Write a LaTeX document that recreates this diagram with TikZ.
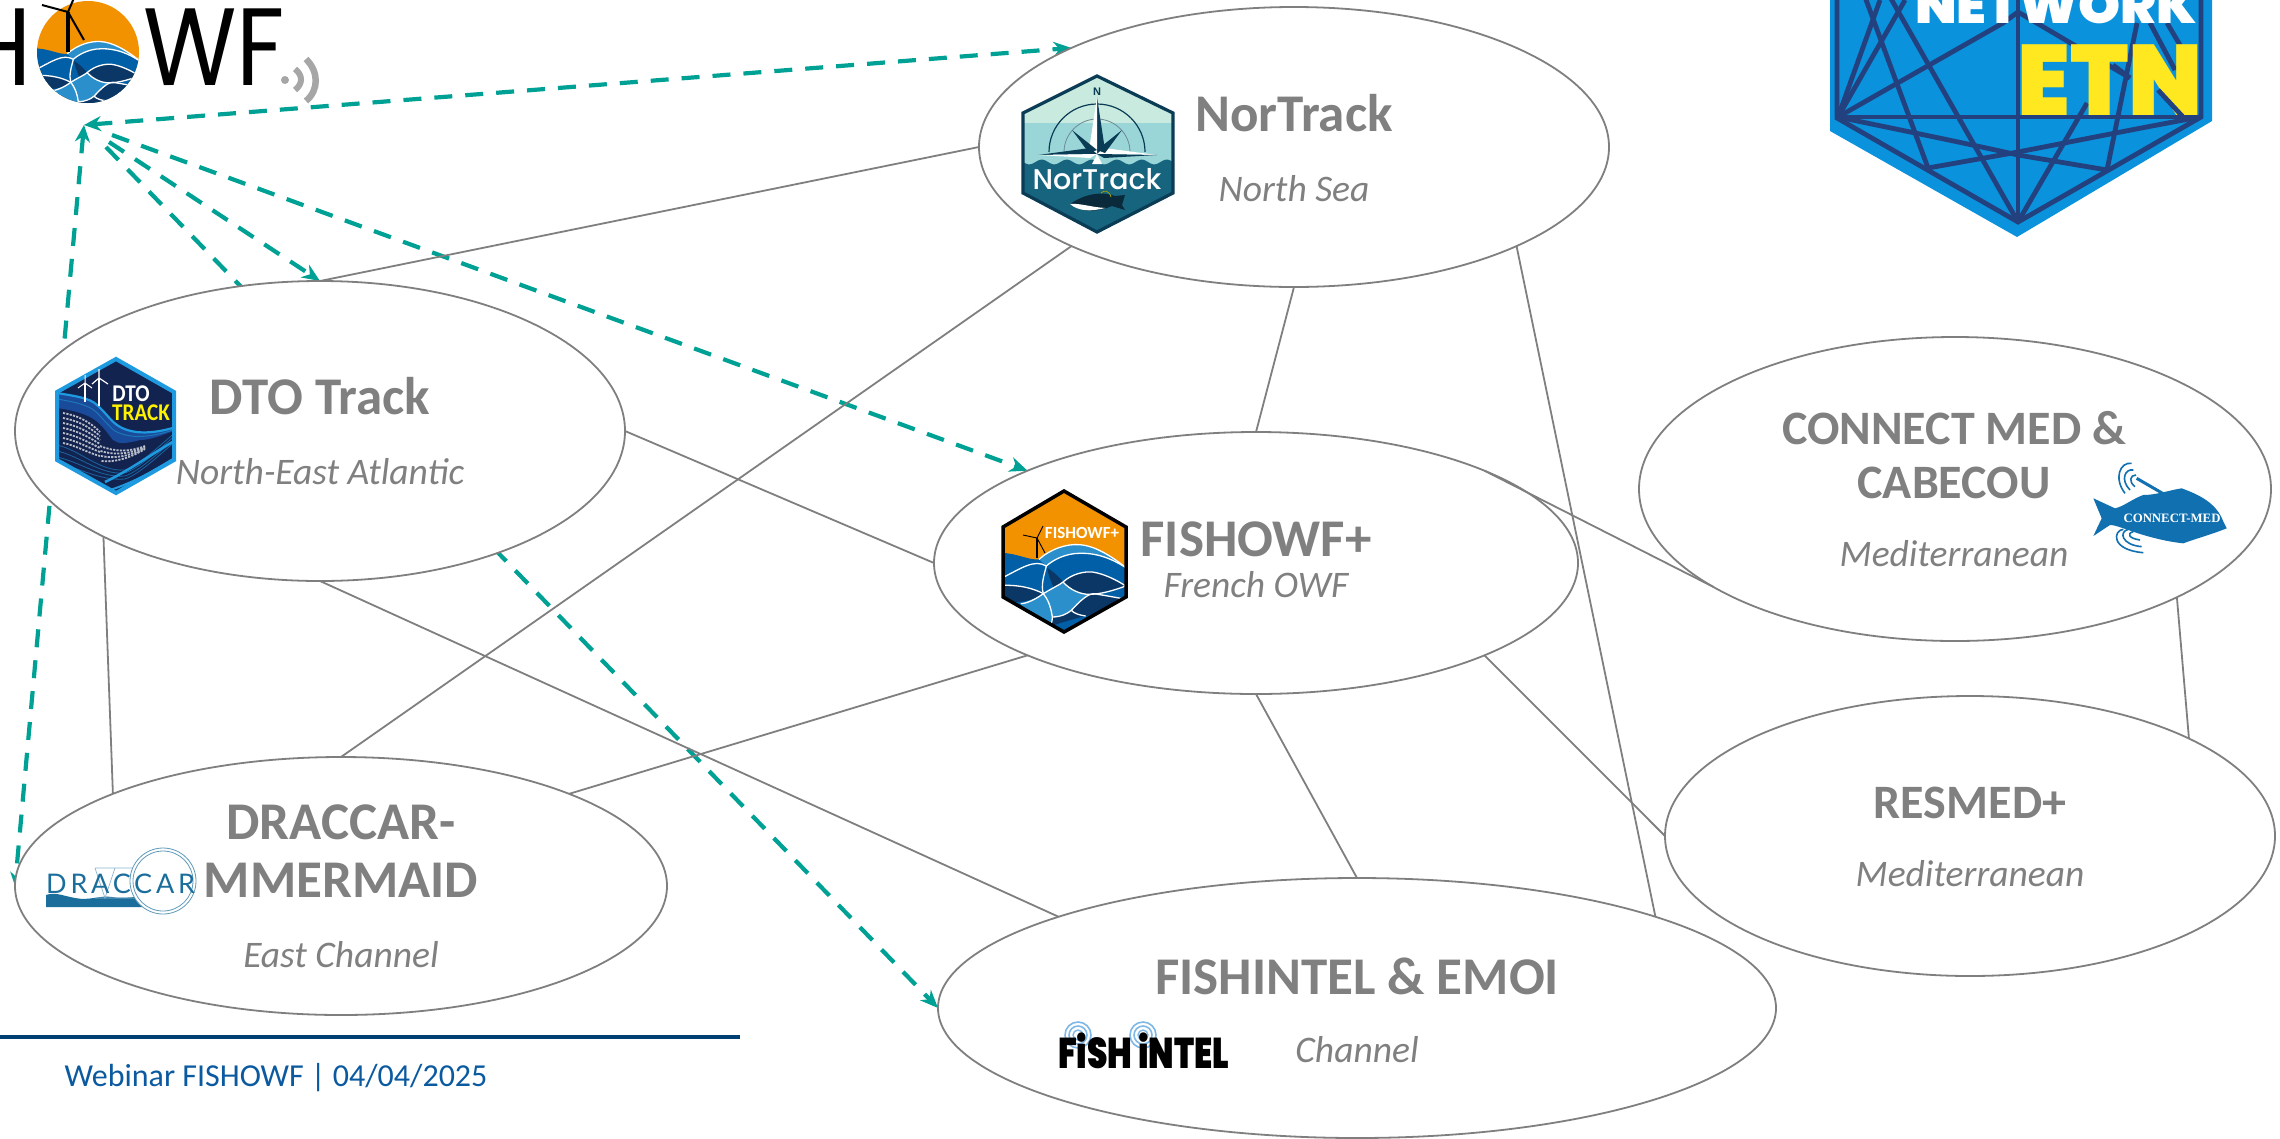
\documentclass[tikz,border=0pt]{standalone}
\usepackage{fontspec}
\usetikzlibrary{shapes.geometric,arrows.meta}
\setmainfont{Carlito}
\newfontfamily\popfont{Poppins}
\newfontfamily\popmed{Poppins Medium}
\newfontfamily\popblack{Poppins Black}
\newfontfamily\drafont[LetterSpace=14]{Lato}
\newfontfamily\serfont{Liberation Serif}
\newfontfamily\helvfont{Liberation Sans}
\pgfdeclarelayer{under}\pgfsetlayers{under,main}
\definecolor{teal1}{HTML}{00A195}
\definecolor{gray1}{HTML}{808080}
\definecolor{gray2}{HTML}{7F7F7F}
\definecolor{wblue}{HTML}{005FA6}
\definecolor{lblue}{HTML}{2A8FCB}
\definecolor{navyf}{HTML}{0A3766}
\definecolor{orangef}{HTML}{F39200}
\definecolor{etnblue}{HTML}{0A92DC}
\definecolor{etnline}{HTML}{23417F}
\definecolor{etnyel}{HTML}{FFE81F}
\definecolor{ntop}{HTML}{C8EADF}
\definecolor{nmid}{HTML}{9AD6D8}
\definecolor{nbot}{HTML}{17647F}
\definecolor{nbord}{HTML}{0B3C55}
\definecolor{nfish}{HTML}{0A2A3C}
\definecolor{dtob}{HTML}{1E9BE0}
\definecolor{dton}{HTML}{13234F}
\definecolor{dtom}{HTML}{1A4A9A}
\definecolor{cmblue}{HTML}{1070B0}
\definecolor{drab}{HTML}{1B6E9C}
\definecolor{ringb}{HTML}{7FB8E6}
\definecolor{webc}{HTML}{0B5AA0}
\definecolor{rulec}{HTML}{003F72}
\tikzset{
  oval/.style={shape=ellipse,draw=gray2,line width=1.8pt,fill=white,inner sep=0pt,outer sep=0pt},
  link/.style={draw=gray2,line width=1.8pt},
  tealdash/.style={draw=teal1,line width=4.2pt,dash pattern=on 18pt off 13pt},
  bothtips/.style={{Stealth[length=17pt,width=15pt]}-{Stealth[length=14pt,width=12pt]}},
  bothbig/.style={{Stealth[length=17pt,width=15pt]}-{Stealth[length=18pt,width=15pt]}},
  endtip/.style={-{Stealth[length=18pt,width=15pt]}},
  title/.style={font=\fontsize{53}{56}\selectfont\bfseries,text=gray1,inner sep=0pt},
  titlesm/.style={font=\fontsize{48}{52}\selectfont\bfseries,text=gray1,inner sep=0pt},
  region/.style={font=\fontsize{37.5}{42}\selectfont\itshape,text=gray1,inner sep=0pt},
  wline/.style={draw=white,line width=1.3pt},
  etnl/.style={draw=etnline,line width=4.8pt},
}
\newcommand{\fishart}[3]{%
 \begin{scope}[shift={(#1,#2)},scale=#3]
  \fill[wblue] (-200,-28) .. controls (-140,-28) and (-110,-5) .. (-75,-8)
     .. controls (-40,-40) and (10,-55) .. (45,-52)
     .. controls (90,-50) and (140,-20) .. (200,25) -- (200,230) -- (-200,230) -- cycle;
  \fill[lblue] (-75,-8) .. controls (-40,-40) and (10,-55) .. (45,-52)
     .. controls (90,-50) and (140,-20) .. (190,20)
     .. controls (130,-20) and (80,-30) .. (30,-25)
     .. controls (-10,-20) and (-40,0) .. (-53,12) -- cycle;
  \fill[lblue] (-62,95) .. controls (-30,75) and (-15,70) .. (-3,60)
     .. controls (20,85) and (50,97) .. (75,97)
     .. controls (60,110) and (40,130) .. (22,145)
     .. controls (0,155) and (-20,165) .. (-35,165)
     .. controls (-40,130) and (-50,110) .. (-62,95) -- cycle;
  \fill[lblue] (-130,125) .. controls (-100,115) and (-80,105) .. (-62,95)
     .. controls (-50,110) and (-40,130) .. (-35,165)
     .. controls (-35,180) and (-40,190) .. (-45,200)
     .. controls (-90,175) and (-115,150) .. (-130,125) -- cycle;
  \fill[navyf] (-3,60) .. controls (25,35) and (60,28) .. (85,30)
     .. controls (120,35) and (160,55) .. (185,72)
     .. controls (150,85) and (110,97) .. (75,97)
     .. controls (50,97) and (20,85) .. (-3,60) -- cycle;
  \fill[navyf] (-190,70) .. controls (-130,68) and (-90,80) .. (-62,95)
     .. controls (-90,115) and (-140,130) .. (-190,110) -- cycle;
  \fill[navyf] (22,145) .. controls (45,120) and (70,95) .. (90,95)
     .. controls (120,100) and (150,105) .. (175,110)
     .. controls (140,140) and (100,160) .. (65,162)
     .. controls (50,160) and (30,155) .. (22,145) -- cycle;
  \fill[navyf] (-50,18) .. controls (-30,30) and (-10,50) .. (-3,60)
     .. controls (-15,70) and (-25,75) .. (-32,75)
     .. controls (-40,55) and (-50,30) .. (-50,18) -- cycle;
  \fill[navyf] (-35,165) .. controls (-10,165) and (10,155) .. (22,145)
     .. controls (30,155) and (50,160) .. (65,162)
     .. controls (30,170) and (0,180) .. (-40,192) -- cycle;
  \draw[wline] (-75,-8) .. controls (-40,-40) and (10,-55) .. (45,-52)
     .. controls (90,-50) and (140,-20) .. (190,20);
  \draw[wline] (-190,50) .. controls (-130,20) and (-90,-10) .. (-53,12)
     .. controls (-40,0) and (-10,-20) .. (30,-25) .. controls (80,-30) and (130,-20) .. (190,20);
  \draw[wline] (-190,70) .. controls (-130,68) and (-90,80) .. (-62,95)
     .. controls (-50,110) and (-40,130) .. (-35,165) .. controls (-35,180) and (-40,190) .. (-45,200);
  \draw[wline] (-53,12) .. controls (-60,40) and (-70,70) .. (-62,95)
     .. controls (-90,115) and (-115,125) .. (-130,125);
  \draw[wline] (-62,95) .. controls (-30,75) and (-15,70) .. (-3,60)
     .. controls (25,35) and (60,28) .. (85,30) .. controls (120,35) and (160,55) .. (185,72);
  \draw[wline] (-3,60) .. controls (20,85) and (50,97) .. (75,97) .. controls (110,97) and (150,85) .. (185,72);
  \draw[wline] (-35,165) .. controls (-10,165) and (10,155) .. (22,145)
     .. controls (45,120) and (70,95) .. (90,95) .. controls (120,100) and (150,105) .. (175,110);
  \draw[wline] (22,145) .. controls (30,155) and (50,160) .. (65,162);
 \end{scope}}
\begin{document}
\begin{tikzpicture}[x=1pt,y=-1pt]
\useasboundingbox (0,0) rectangle (2280,1138);
\coordinate (hub) at (84,125);
\coordinate (hubb) at (106,147);
\coordinate (hubc) at (109,142);
\coordinate (hubd) at (112,135);
\node[oval,minimum width=630pt,minimum height=280pt] (nor) at (1294,147) {};
\node[oval,minimum width=610pt,minimum height=300pt] (dto) at (320,431) {};
\node[oval,minimum width=644pt,minimum height=262pt] (fow) at (1256,563) {};
\node[oval,minimum width=632pt,minimum height=304pt] (con) at (1955,489) {};
\node[oval,minimum width=610pt,minimum height=280pt] (res) at (1970,836) {};
\node[oval,minimum width=652pt,minimum height=258pt] (dra) at (341,886) {};
\node[oval,minimum width=838pt,minimum height=260pt] (int) at (1357,1008) {};
% teal arrows, behind the ovals
\begin{pgfonlayer}{under}
\draw[tealdash,endtip] (hubb) -- (int.180);
\draw[tealdash,bothtips] (hub) -- (dra.180);
\draw[tealdash,bothbig] (hub) -- (nor.156);
\draw[tealdash,endtip] (hubc) -- (dto.90);
\draw[tealdash,endtip] (hubd) -- (fow.158);
\end{pgfonlayer}
% grey links
\draw[link] (nor.180) -- (dto.90);
\draw[link] (nor.204) -- (dra.90);
\draw[link] (nor.270) -- (fow.90);
\draw[link] (nor.-24.2) -- (int.17.3);
\draw[link] (dto.0) -- (fow.180);
\draw[link] (dto.206.8) -- (dra.158);
\draw[link] (dto.270) -- (int.163);
\draw[link] (fow.202) -- (dra.22);
\draw[link] (fow.270) -- (int.90);
\draw[link] (fow.-22.7) -- (res.180);
\draw[link] (fow.22.3) -- (con.202.4);
\draw[link] (con.-26) -- (res.24.4);
% texts
\node[title] (tnor) at (1294,113) {NorTrack};
\node[region] (rnor) at (1294,189) {North Sea};
\node[title] (tdto) at (320,396) {DTO Track};
\node[region] (rdto) at (320,472) {North-East Atlantic};
\node[title] (tfow) at (1256,539) {FISHOWF+};
\node[region] (rfow) at (1256,585) {French OWF};
\node[titlesm] (tcon) at (1954,428) {CONNECT MED \&};
\node[titlesm] (tcon2) at (1954,483) {CABECOU};
\node[region] (rcon) at (1954,554) {Mediterranean};
\node[titlesm] (tres) at (1970,803) {RESMED+};
\node[region] (rres) at (1970,874) {Mediterranean};
\node[title] (tdra) at (341,822) {DRACCAR-};
\node[title] (tdra2) at (341,880) {MMERMAID};
\node[region] (rdra) at (341,955) {East Channel};
\node[title] (tint) at (1357,976) {FISHINTEL \& EMOI};
\node[region] (rint) at (1357,1050) {Channel};
% footer
\coordinate (ruleL) at (0,1037);
\coordinate (ruleR) at (740,1037);
\draw[rulec,line width=4pt] (ruleL) -- (ruleR);
\node[text=webc,font=\fontsize{32}{36}\selectfont,inner sep=0pt] (web) at (276,1078) {Webinar FISHOWF | 04/04/2025};
% === FISHOWF wordmark, top left
\node[font=\popfont\fontsize{110}{114}\selectfont,anchor=base east,inner sep=0pt,xscale=0.87] (lh) at (32,85) {H};
\begin{scope}
 \clip (88,52) circle (51);
 \fill[orangef] (30,0) rectangle (150,110);
 \fishart{88}{56}{0.277}
\end{scope}
\draw[black,line width=3.5pt] (68,12) -- (68,52);
\draw[black,line width=2pt] (68,12) -- (42,5);
\draw[black,line width=2pt] (68,12) -- (74,-2);
\draw[black,line width=2pt] (68,12) -- (84,40);
\node[font=\popfont\fontsize{110}{114}\selectfont,anchor=base west,inner sep=0pt,xscale=0.87] (lwf) at (143,85) {WF};
\fill[gray!70] (285,80) circle (4);
\draw[gray!70,line width=6pt] (295,69) .. controls (303,75) and (303,84) .. (295,90);
\draw[gray!70,line width=6.5pt] (306,59) .. controls (319,72) and (319,90) .. (306,101);
% === ETN badge, top right
\fill[etnblue] (1830,-5) -- (1830,131) -- (2017,237) -- (2212,121) -- (2212,-5) -- cycle;
\draw[etnl] (1837,-5) -- (1837,118) -- (2018,222) -- (2201,117) -- (2201,-5);
\draw[etnl] (1838,117) -- (2200,117);
\draw[etnl] (2018,-5) -- (2018,222);
\draw[etnl] (1838,117) -- (1880,0);
\draw[etnl] (1838,117) -- (1905,0);
\draw[etnl] (1838,117) -- (2003,23) -- (2018,12);
\draw[etnl] (1865,-3) -- (1928,168);
\draw[etnl] (1890,-3) -- (2018,222);
\draw[etnl] (1928,168) -- (2018,152) .. controls (2080,140) and (2140,128) .. (2200,117);
\draw[etnl] (1838,117) .. controls (1900,130) and (1960,142) .. (2018,155) -- (2107,170);
\draw[etnl] (2018,222) -- (2087,103);
\draw[etnl] (2107,170) -- (2137,23);
\draw[etnl] (2018,12) -- (2130,78);
\draw[etnl] (2150,23) -- (2175,70);
\draw[etnl] (2167,23) -- (2180,45);
\node[font=\popblack\fontsize{100}{100}\selectfont,text=etnyel,anchor=base west,inner sep=0pt,xscale=0.95] (etn) at (2017,115) {ETN};
\draw[etnl] (2158,90) -- (2183,117);
\draw[etnl] (2113,65) -- (2130,78);
\node[font=\popblack\fontsize{50}{50}\selectfont,text=white,anchor=base west,inner sep=0pt,xscale=1.07] (netw) at (1915,23) {NETWORK};
% === NorTrack badge
\begin{scope}
 \clip (1097,76) -- (1173,113) -- (1173,193) -- (1097,232) -- (1023,193) -- (1023,113) -- cycle;
 \fill[ntop] (1020,70) rectangle (1176,123);
 \fill[nmid] (1020,123) rectangle (1176,170);
 \draw[nbord,line width=1.2pt] (1049,152) .. controls (1049,125.5) and (1070.5,104) .. (1097,104) .. controls (1123.5,104) and (1145,125.5) .. (1145,152);
 \draw[nbord!60,line width=0.8pt] (1064,152) .. controls (1064,134) and (1079,119) .. (1097,119) .. controls (1115,119) and (1130,134) .. (1130,152);
 \fill[nbot] (1020,240) -- plot[domain=1023:1173,samples=90] (\x,{162+2.4*sin((\x-1023)*14.4)}) -- (1176,240) -- cycle;
\end{scope}
\draw[nbord,line width=3.2pt] (1097,76) -- (1173,113) -- (1173,193) -- (1097,232) -- (1023,193) -- (1023,113) -- cycle;
\fill[nbord] (1097,97) -- (1105,150) -- (1097,155) -- cycle;
\fill[white] (1097,97) -- (1089,150) -- (1097,155) -- cycle;
\fill[nbord] (1038,155) -- (1090,148) -- (1097,154) -- cycle;
\fill[white] (1157,155) -- (1104,148) -- (1097,154) -- cycle;
\fill[nbord] (1157,155) -- (1104,158) -- (1097,154) -- cycle;
\fill[white] (1038,155) -- (1090,158) -- (1097,154) -- cycle;
\fill[nbord] (1072,130) -- (1097,150) -- (1089,153) -- cycle;
\fill[nbord] (1122,130) -- (1097,150) -- (1105,153) -- cycle;
\fill[white] (1097,154) -- (1092,164) -- (1102,164) -- cycle;
\node[font=\helvfont\bfseries\fontsize{11}{12}\selectfont,text=nbord,inner sep=0pt] (nn) at (1097,92) {N};
\node[font=\popmed\fontsize{28.5}{30}\selectfont,text=white,inner sep=0pt] (nlogo) at (1097,179) {NorTrack};
\fill[nfish] (1070,204) .. controls (1085,194) and (1100,191) .. (1115,196) -- (1125,195) -- (1122,205) -- (1125,210) -- (1112,206) .. controls (1095,213) and (1080,212) .. (1070,204) -- cycle;
\fill[white] (1070,204) .. controls (1080,203) and (1090,207) .. (1105,208) .. controls (1090,212) and (1078,211) .. (1070,204) -- cycle;
\draw[olive!80!yellow,line width=0.8pt] (1101,193) .. controls (1104,190) and (1109,190) .. (1111,197);
% === DTO badge
\begin{scope}
 \clip (116,359) -- (174,392) -- (174,460) -- (116,493) -- (57,460) -- (57,392) -- cycle;
 \fill[dton] (50,350) rectangle (180,500);
 \fill[dtom] (57,393) .. controls (75,396) and (90,398) .. (97,405) .. controls (105,412) and (110,420) .. (117,425) .. controls (130,434) and (150,435) .. (176,427)
   -- (176,430) .. controls (160,436) and (150,440) .. (140,440) .. controls (125,444) and (118,444) .. (113,440) .. controls (105,430) and (100,422) .. (90,417) .. controls (80,412) and (70,410) .. (57,408) -- cycle;
 \draw[dtob,line width=2.2pt] (57,393) .. controls (75,396) and (90,398) .. (97,405) .. controls (105,412) and (110,420) .. (117,425) .. controls (130,434) and (150,435) .. (176,427);
 \draw[dtob!70!dton,line width=1pt] (57,399) .. controls (75,402) and (88,405) .. (95,411) .. controls (103,418) and (108,426) .. (115,431) .. controls (130,439) and (150,438) .. (176,429);
 \foreach \d in {0,5,10,15,20,25,30} {
   \draw[white!70!dton,line width=1.8pt,dash pattern=on 2.2pt off 1.2pt] (63,{413+\d}) .. controls (75,{415+\d}) and (88,{420+\d*1.1}) .. (100,{432+\d*0.8});
 }
 \foreach \d in {0,5,10,15} {
   \draw[white!70!dton,line width=1.8pt,dash pattern=on 2.2pt off 1.2pt] ({100+\d*0.1},{446+\d}) .. controls (115,{452+\d*0.7}) and (130,{452+\d*0.4}) .. (145,{446+\d*0.2});
 }
 \foreach \d in {0,6,12,18} {
   \draw[dtob!55!dton,line width=0.8pt] (57,{445+\d}) .. controls (80,{450+\d}) and (100,{472+\d*0.5}) .. (125,{470+\d*0.5}) .. controls (140,{465+\d*0.5}) and (160,{445+\d*0.5}) .. (176,{432+\d*0.5});
 }
 \draw[dtob,line width=2.5pt] (105,482) .. controls (130,470) and (150,455) .. (176,440);
 \draw[dtob,line width=2pt] (110,490) .. controls (135,482) and (155,470) .. (176,457);
\end{scope}
\draw[dtob,line width=4pt] (116,359) -- (174,392) -- (174,460) -- (116,493) -- (57,460) -- (57,392) -- cycle;
\draw[white,line width=1.6pt] (85,383) -- (85,402);
\draw[white,line width=1.8pt] (99,378) -- (99,406);
\draw[white,line width=1pt] (85,383) -- (78,388) (85,383) -- (92,388) (85,383) -- (85,375);
\draw[white,line width=1.2pt] (99,378) -- (92,384) (99,378) -- (108,384) (99,378) -- (99,369);
\node[font=\bfseries\fontsize{24}{24}\selectfont,text=white,inner sep=0pt,xscale=0.88] (dlogo) at (131,394) {DTO};
\node[font=\bfseries\fontsize{24}{24}\selectfont,text=yellow,inner sep=0pt,xscale=0.88] (tlogo) at (141,413) {TRACK};
% === FISHOWF+ badge
\begin{scope}
 \clip (1064,491) -- (1126,527) -- (1126,597) -- (1064,632) -- (1003,597) -- (1003,527) -- cycle;
 \fill[orangef] (1000,485) rectangle (1130,640);
 \fishart{1064}{562}{0.3333}
\end{scope}
\draw[black,line width=3.5pt] (1064,491) -- (1126,527) -- (1126,597) -- (1064,632) -- (1003,597) -- (1003,527) -- cycle;
\draw[black,line width=1.6pt] (1037,558) -- (1037,538);
\draw[black,line width=0.9pt] (1037,538) -- (1023,535);
\draw[black,line width=0.9pt] (1037,538) -- (1043,526);
\draw[black,line width=0.9pt] (1037,538) -- (1045,553);
\node[font=\bfseries\fontsize{17}{18}\selectfont,text=white,inner sep=0pt] (flogo) at (1082,533) {FISHOWF+};
% === Connect-Med logo
\begin{scope}[shift={(2060,440)},scale=0.3333]
 \fill[cmblue] (100,175) -- (165,205) .. controls (190,200) and (220,175) .. (250,165)
   .. controls (290,165) and (330,150) .. (365,145) .. controls (420,165) and (470,190) .. (490,245)
   -- (500,265) .. controls (450,285) and (410,295) .. (370,310)
   .. controls (320,305) and (260,290) .. (205,270) .. controls (180,262) and (165,255) .. (150,255)
   -- (100,288) -- (125,235) -- cycle;
 \draw[cmblue,line width=3pt] (230,115) -- (325,170);
 \draw[cmblue,line width=1.6pt] (215,70) .. controls (180,65) and (160,115) .. (195,160);
 \draw[cmblue,line width=1.6pt] (220,90) .. controls (195,85) and (180,120) .. (210,150);
 \draw[cmblue,line width=1.6pt] (228,105) .. controls (210,105) and (205,125) .. (225,140);
 \draw[cmblue,line width=1.6pt] (190,268) .. controls (160,270) and (150,330) .. (250,338);
 \draw[cmblue,line width=1.6pt] (205,268) .. controls (175,275) and (185,315) .. (245,320);
 \draw[cmblue,line width=1.6pt] (220,275) .. controls (200,280) and (205,295) .. (240,300);
\end{scope}
\node[font=\serfont\bfseries\fontsize{12.8}{14}\selectfont,text=white,inner sep=0pt] (clogo) at (2172,518) {CONNECT-MED};
% === DRACCAR logo
\fill[drab] (46,895) .. controls (55,892) and (60,895) .. (75,898) .. controls (90,901) and (100,895) .. (112,897) .. controls (125,899) and (135,896) .. (145,897) -- (145,907) -- (46,907) -- cycle;
\draw[drab!50,line width=0.7pt] (95,868) -- (140,868) (95,898) -- (140,898) (95,868) -- (105,898) -- (115,868);
\fill[white] (163,881) circle (33);
\draw[drab!70,line width=0.8pt] (163,881) circle (33);
\draw[drab!70,line width=0.8pt] (163,881) circle (30);
\node[font=\drafont\fontsize{27}{28}\selectfont,text=drab,anchor=base west,inner sep=0pt] (dlogo2) at (46,893) {DRACCAR};
% === FISHINTEL logo
\foreach \cx in {1078,1143} {
 \draw[ringb,line width=1.6pt] (\cx,1035) circle (13);
 \draw[ringb,line width=1.6pt] (\cx,1035) circle (9);
 \draw[ringb,line width=1.4pt] (\cx,1035) circle (5);
}
\node[font=\popblack\fontsize{43}{44}\selectfont,text=black,anchor=base west,inner sep=0pt,xscale=0.76] (ilogo) at (1058,1068) {FiSH iNTEL};
\end{tikzpicture}
\end{document}
